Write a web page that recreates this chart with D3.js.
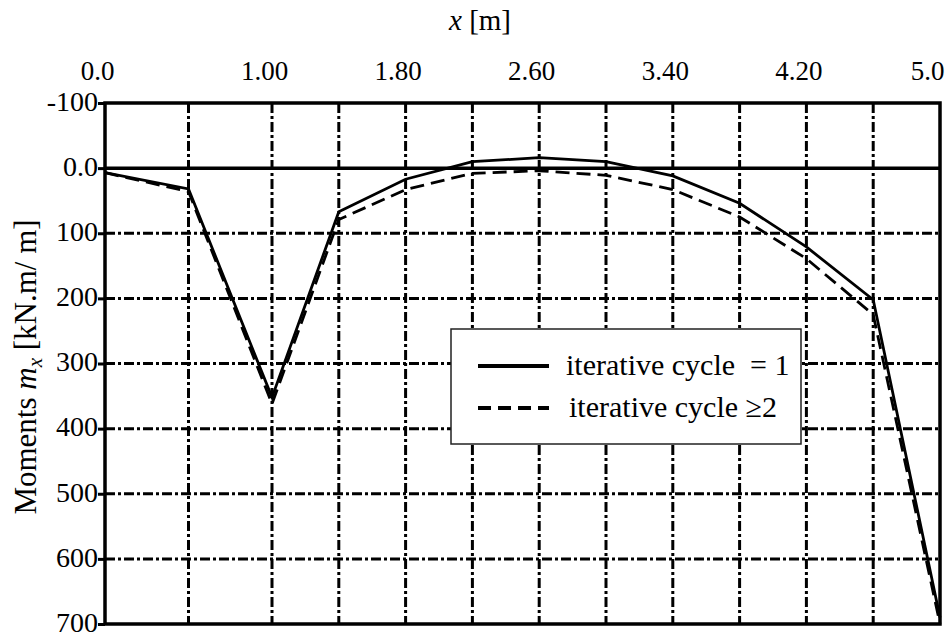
<!DOCTYPE html>
<html>
<head>
<meta charset="utf-8">
<script src="https://cdn.jsdelivr.net/npm/d3@7"></script>
<style>
	body { margin: 0; background: #fff; }
	svg { display: block; }
	text { font-family: 'Liberation Serif', 'Times New Roman', serif; fill: #000; }
</style>
</head>
<body>
<svg></svg>
<script>
// positions along the beam [m]
const xs = [0, 0.5, 1.0, 1.4, 1.8, 2.2, 2.6, 3.0, 3.4, 3.8, 4.2, 4.6, 5.0]
// moments m_x [kN.m/m], positive drawn downward
const cycle1 = [7, 32, 352, 67, 17, -10, -16, -10, 12, 54, 121, 202, 690]
const cycle2 = [7, 36, 362, 79, 33, 8, 4, 11, 33, 75, 139, 225, 700]

const xTickValues = [0, 1.0, 1.8, 2.6, 3.4, 4.2, 5.0]
const xTickLabels = ['0.0', '1.00', '1.80', '2.60', '3.40', '4.20', '5.0']
const yTickValues = [-100, 0, 100, 200, 300, 400, 500, 600, 700]
const yTickLabels = ['-100', '0.0', '100', '200', '300', '400', '500', '600', '700']
const legendLabels = ['iterative cycle  = 1', 'iterative cycle \u22652']

const W = 949, H = 637
const margin = { top: 103, right: 9, bottom: 13, left: 105 }
const width = W - margin.left - margin.right,
	height = H - margin.top - margin.bottom

const svg = d3.select('svg')
	.attr('width', W)
	.attr('height', H)

const x = d3.scaleLinear().domain([0, 5]).range([0, width])
const y = d3.scaleLinear().domain([-100, 700]).range([0, height])

const g = svg.append('g')
	.attr('transform', 'translate(' + margin.left + ',' + margin.top + ')')

// vertical dash-dot grid at every computed station
g.selectAll('.vgrid')
	.data(xs.filter(d => d > 0 && d < 5))
	.enter()
	.append('line')
	.attr('x1', d => x(d))
	.attr('x2', d => x(d))
	.attr('y1', 0)
	.attr('y2', height)
	.attr('stroke', '#000')
	.attr('stroke-width', 3)
	.attr('stroke-dasharray', '10,3,3,3')

// horizontal dash-dot grid
g.selectAll('.hgrid')
	.data(yTickValues.filter(d => d > 0 && d < 700))
	.enter()
	.append('line')
	.attr('x1', 0)
	.attr('x2', width)
	.attr('y1', d => y(d))
	.attr('y2', d => y(d))
	.attr('stroke', '#000')
	.attr('stroke-width', 3)
	.attr('stroke-dasharray', '10,3,3,3')

// zero line
g.append('line')
	.attr('x1', 0)
	.attr('x2', width)
	.attr('y1', y(0))
	.attr('y2', y(0))
	.attr('stroke', '#000')
	.attr('stroke-width', 3.5)

// left axis with ticks pointing outward
const yAxis = g.append('g')
	.call(d3.axisLeft(y)
		.tickValues(yTickValues)
		.tickFormat((d, i) => yTickLabels[i])
		.tickSize(7)
		.tickPadding(0))
yAxis.select('.domain').remove()
yAxis.selectAll('line').attr('stroke-width', 3)
yAxis.selectAll('text')
	.style('font-family', "'Liberation Serif', serif")
	.style('font-size', '28px')
	.attr('dy', '0.26em')

// top axis labels (no ticks)
const xAxis = g.append('g')
	.call(d3.axisTop(x)
		.tickValues(xTickValues)
		.tickFormat((d, i) => xTickLabels[i])
		.tickSize(0)
		.tickPadding(23))
xAxis.select('.domain').remove()
xAxis.selectAll('text')
	.style('font-family', "'Liberation Serif', serif")
	.style('font-size', '27px')
	.attr('x', (d, i) => i === xTickValues.length - 1 ? -13 : -8)

// frame
g.append('rect')
	.attr('width', width)
	.attr('height', height)
	.attr('fill', 'none')
	.attr('stroke', '#000')
	.attr('stroke-width', 3.5)

const line = d3.line()
	.x((d, i) => x(xs[i]))
	.y(d => y(d))

g.append('path')
	.datum(cycle2)
	.attr('d', line)
	.attr('fill', 'none')
	.attr('stroke', '#000')
	.attr('stroke-width', 2.8)
	.attr('stroke-dasharray', '14,7')

g.append('path')
	.datum(cycle1)
	.attr('d', line)
	.attr('fill', 'none')
	.attr('stroke', '#000')
	.attr('stroke-width', 2.8)

// legend
const legend = svg.append('g').attr('transform', 'translate(451,329)')
legend.append('rect')
	.attr('width', 350)
	.attr('height', 115)
	.attr('fill', '#fff')
	.attr('stroke', '#222')
	.attr('stroke-width', 1.5)

legend.selectAll('.key')
	.data(legendLabels)
	.enter()
	.append('line')
	.attr('x1', 27)
	.attr('x2', 98)
	.attr('y1', (d, i) => 37 + i * 42)
	.attr('y2', (d, i) => 37 + i * 42)
	.attr('stroke', '#000')
	.attr('stroke-width', 4)
	.attr('stroke-dasharray', (d, i) => i ? '13,7' : null)

legend.selectAll('.lbl')
	.data(legendLabels)
	.enter()
	.append('text')
	.attr('x', (d, i) => i ? 118 : 115)
	.attr('y', (d, i) => 37 + i * 42)
	.attr('dy', '0.3em')
	.style('font-size', '30px')
	.style('white-space', 'pre')
	.text(d => d)

// axis titles
const xt = svg.append('text')
	.attr('x', 480)
	.attr('y', 30)
	.attr('text-anchor', 'middle')
	.style('font-size', '29px')
xt.append('tspan').style('font-style', 'italic').text('x')
xt.append('tspan').text(' [m]')

const yt = svg.append('text')
	.attr('transform', 'translate(36,367) rotate(-90)')
	.attr('text-anchor', 'middle')
	.style('font-size', '31px')
yt.append('tspan').text('Moments ')
yt.append('tspan').style('font-style', 'italic').text('m')
yt.append('tspan').style('font-style', 'italic').style('font-size', '21px').attr('dy', 6).text('x')
yt.append('tspan').attr('dy', -6).text(' [kN.m/ m]')
</script>
</body>
</html>
